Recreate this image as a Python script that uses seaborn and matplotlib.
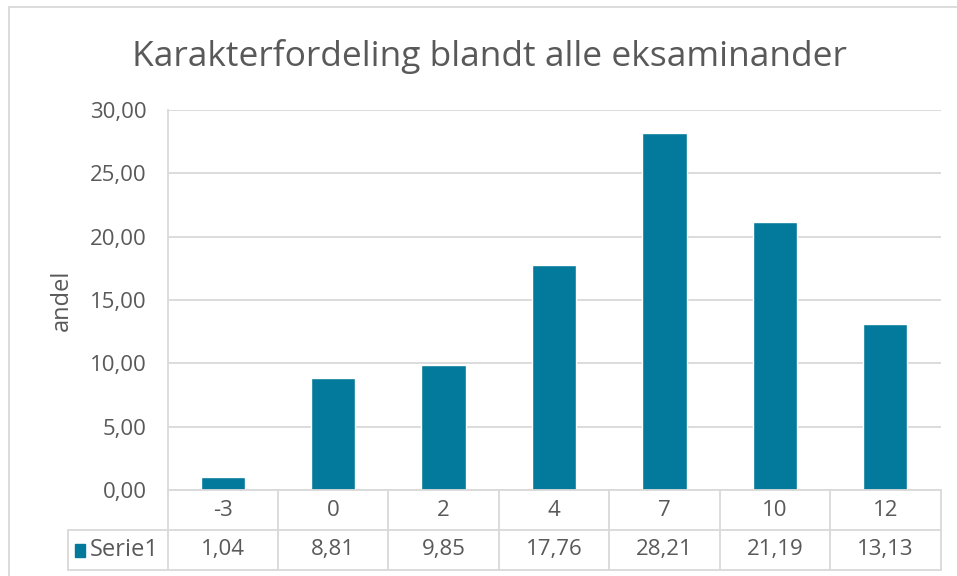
import matplotlib
matplotlib.use('Agg')
import matplotlib.pyplot as plt
import seaborn as sns
import pandas as pd
from matplotlib.lines import Line2D
from matplotlib.patches import Rectangle
from matplotlib.ticker import FuncFormatter

# Data
karakterer = ['-3', '0', '2', '4', '7', '10', '12']
andel = [1.04, 8.81, 9.85, 17.76, 28.21, 21.19, 13.13]
serie_navn = 'Serie1'

df = pd.DataFrame({'karakter': karakterer, 'andel': andel})

sns.set_style('white')
plt.rcParams['font.family'] = ['Open Sans', 'DejaVu Sans']

W, H = 957, 576
fig = plt.figure(figsize=(W / 100, H / 100), dpi=100)

def fx(x):
    return x / W

def fy(y):
    return 1 - y / H

grey = '#595959'
line_c = '#d9d9d9'
bar_c = '#037a9b'
fs = 16

# plot area
left, right, top, bottom = 167.5, 940.5, 110, 490
ax = fig.add_axes([fx(left), fy(bottom), fx(right) - fx(left), fy(top) - fy(bottom)])
sns.barplot(data=df, x='karakter', y='andel', color=bar_c, width=0.4,
            saturation=1, ax=ax, order=karakterer)

ax.set_ylim(0, 30)
ax.set_yticks([0, 5, 10, 15, 20, 25, 30])
ax.yaxis.set_major_formatter(FuncFormatter(lambda v, p: f'{v:.2f}'.replace('.', ',')))
ax.grid(axis='y', color=line_c, linewidth=1.3)
ax.set_axisbelow(True)
for s in ['top', 'right', 'bottom']:
    ax.spines[s].set_visible(False)
ax.spines['left'].set_color(line_c)
ax.spines['left'].set_linewidth(1.3)
ax.tick_params(axis='y', length=0, pad=15, labelsize=fs, labelcolor=grey)
ax.set_xticks([])
ax.set_xlabel('')
ax.set_ylabel('')

# y-axis title
fig.text(fx(62), fy(300), 'andel', rotation=90, ha='center', va='center',
         fontsize=17, color=grey)

# chart title
fig.text(fx(489), fy(57), 'Karakterfordeling blandt alle eksaminander',
         ha='center', va='center', fontsize=25.5, color=grey)

# outer chart border (top and left)
fig.add_artist(Line2D([fx(9), fx(957)], [fy(7), fy(7)], color=line_c, lw=1.3))
fig.add_artist(Line2D([fx(9), fx(9)], [fy(7), fy(576)], color=line_c, lw=1.3))

# data table below the plot
col_w = (right - left) / len(karakterer)
row1_top, row1_bot, row2_bot = 490, 530, 570
fig.add_artist(Line2D([fx(left), fx(right)], [fy(row1_top)] * 2, color=line_c, lw=1.3))
fig.add_artist(Line2D([fx(68), fx(right)], [fy(row1_bot)] * 2, color=line_c, lw=1.3))
fig.add_artist(Line2D([fx(68), fx(right)], [fy(row2_bot)] * 2, color=line_c, lw=1.3))
fig.add_artist(Line2D([fx(68), fx(68)], [fy(row1_bot), fy(row2_bot)], color=line_c, lw=1.3))
for i in range(len(karakterer) + 1):
    x = left + i * col_w
    fig.add_artist(Line2D([fx(x), fx(x)], [fy(row1_top), fy(row2_bot)], color=line_c, lw=1.3))

for i, (k, v) in enumerate(zip(karakterer, andel)):
    cx = left + (i + 0.5) * col_w
    fig.text(fx(cx), fy(510), k, ha='center', va='center', fontsize=fs, color=grey)
    fig.text(fx(cx), fy(550), f'{v:.2f}'.replace('.', ','), ha='center', va='center',
             fontsize=fs, color=grey)

fig.add_artist(Rectangle((fx(75), fy(557)), fx(10), fy(544) - fy(557), color=bar_c))
fig.text(fx(90), fy(550), serie_navn, ha='left', va='center', fontsize=17, color=grey)

fig.savefig('out.png', dpi=100)
